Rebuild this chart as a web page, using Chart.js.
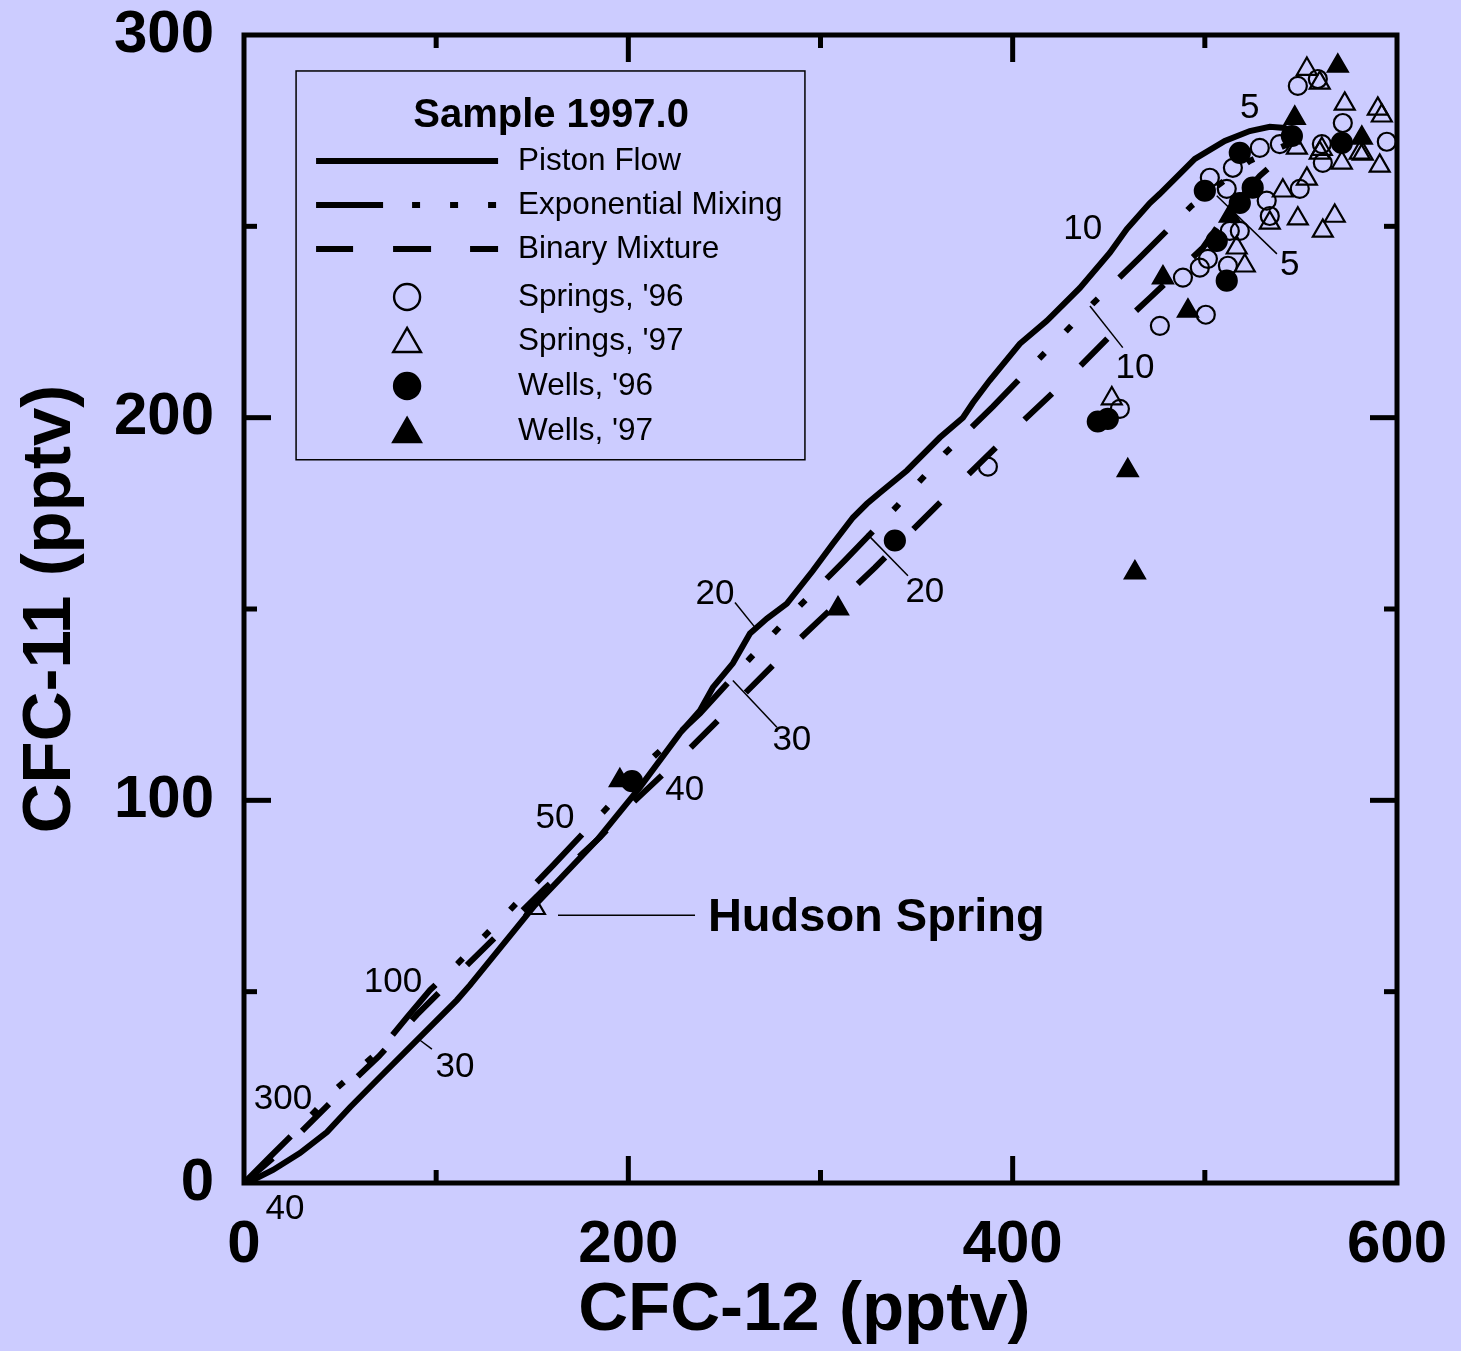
<!DOCTYPE html>
<html lang="en">
<head>
<meta charset="UTF-8">
<title>CFC-11 x CFC-12</title>
<script src="https://cdn.jsdelivr.net/npm/chart.js"></script>
<style>
  html, body { margin: 0; padding: 0; background: #ccccff; }
</style>
</head>
<body>
<canvas id="grafico" width="1461" height="1351"></canvas>
<script>
// curvas dos modelos (CFC-12, CFC-11)
const pistaoX = [1.5, 15.1, 29.1, 43.2, 55.2, 70.8, 84.8, 110.8, 117.6, 151.4, 183.7, 206, 226.8, 237.3, 244, 254.4, 263.3, 272.1, 282.5, 296, 306.5, 316.9, 324.1, 330.9, 345, 362.1, 374.1, 379.3, 388, 403.7, 417.8, 435, 450.6, 459.4, 471.4, 476.6, 494.8, 510.4, 523.4, 533.8, 541.6, 549.4];
const pistaoY = [0, 3.4, 7.8, 13.3, 19.8, 27.7, 34.7, 47.8, 51.7, 72.6, 89.6, 103.4, 117.5, 123.5, 129.5, 135.8, 143.6, 147.5, 151.4, 160, 167.1, 173.9, 177.5, 180.4, 186.2, 194.8, 200, 203.9, 209.7, 219.3, 225.3, 233.9, 243.1, 249.3, 256.1, 258.5, 267.6, 272.3, 274.9, 276, 275.7, 272.3];

const expX = [0, 13.5, 29.1, 48.4, 70.8, 84.8, 96.8, 111.3, 136.8, 160.8, 186.8, 212.8, 237.3, 263.3, 289.3, 312.7, 339.7, 364.7, 389.7, 415.7, 441.7, 466.2, 493.2, 523.4, 549.4];
const expY = [0, 6.8, 14.6, 24.8, 34.7, 43.3, 50.4, 57.4, 70.5, 83, 96.9, 111.2, 122.7, 137.1, 150.9, 162.7, 176.8, 190.6, 202.9, 216.4, 229.8, 241.8, 255.4, 267.1, 272.8];

const binX = [0, 15, 30, 50, 70, 90, 110, 142.6, 156.6, 185.2, 199.8, 228.4, 257, 285.6, 328.3, 371, 400.1, 428.7, 456.8, 471.4, 499, 510.4, 528.6, 549.4];
const binY = [0, 6.5, 13.5, 23.5, 33, 44, 54, 70, 77, 90.3, 98.2, 111.7, 126.1, 140.5, 160.8, 182.2, 196.6, 210.2, 224.5, 231.3, 244.4, 252.7, 263.2, 272.3];

// amostras
const fontes96X = [387.1, 455.8, 476.6, 500.5, 488.6, 497.4, 501.6, 512.0, 513.0, 518.2, 502.6, 511.4, 514.6, 532.2, 533.8, 549.4, 561.4, 528.6, 539.0, 548.4, 558.8, 571.8, 560.9, 594.7];
const fontes96Y = [187.2, 202.3, 224.0, 226.9, 236.6, 239.2, 241.5, 239.7, 248.8, 248.8, 262.7, 259.8, 265.3, 256.7, 252.7, 259.8, 266.6, 270.5, 271.5, 286.7, 288.5, 277.0, 271.5, 272.1];

const fontes97X = [151.4, 451.6, 520.8, 516.6, 533.8, 540.6, 553.1, 560.9, 548.4, 567.6, 561.4, 582.2, 591.0, 547.9, 553.1, 559.8, 572.8, 590.0, 592.1, 571.3, 580.6, 559.8];
const fontes97Y = [71.8, 205.0, 239.7, 244.4, 250.9, 259.3, 262.4, 270.2, 252.0, 252.7, 248.8, 268.9, 265.8, 270.5, 291.1, 287.5, 282.0, 280.7, 278.9, 266.6, 269.2, 269.2];

const pocos96X = [201.9, 338.7, 444.3, 449.5, 511.4, 506.2, 500.0, 518.2, 524.9, 518.2, 545.3, 571.3];
const pocos96Y = [105.0, 167.9, 199.0, 199.7, 235.8, 246.2, 259.3, 256.1, 260.1, 269.2, 273.6, 271.8];

const pocos97X = [195.6, 309.1, 459.9, 463.6, 491.2, 478.2, 513.0, 546.8, 569.2, 581.7];
const pocos97Y = [105.2, 150.1, 186.2, 159.5, 227.9, 236.6, 252.7, 278.3, 291.9, 273.1];

// ticks dos eixos
const xTicksMaiores = [200, 400];
const xTicksMenores = [100, 300, 500];
const yTicksMaiores = [100, 200];
const yTicksMenores = [50, 150, 250];

// rotulos de idade sobre as curvas: [texto, x, y]
const rotulosIdade = [
    ['40', 21.3, -7.0], ['30', 109.8, 30.3], ['20', 245.1, 153.8], ['10', 436.5, 249.1], ['5', 523.4, 280.9],
    ['300', 20.3, 21.9], ['100', 77.5, 52.5], ['50', 161.8, 95.3], ['40', 229.4, 102.6],
    ['30', 285.1, 115.7], ['20', 354.3, 154.3], ['10', 463.6, 212.8], ['5', 544.2, 239.7]
];
// linhas de chamada: [x1, y1, x2, y2]
const chamadas = [
    [91.6, 37.3, 97.8, 35.0], [255.5, 151.7, 265.9, 145.2],
    [254.4, 131.3, 277.3, 119.1], [324.1, 169.7, 345.5, 158.7],
    [440.2, 229.2, 457.3, 218.3], [506.2, 258.0, 537.5, 242.8],
    [163.4, 70.0, 234.7, 70.0]
];

const FONTE = '"Liberation Sans", Arial, sans-serif';
Chart.defaults.font.family = FONTE;
Chart.defaults.color = '#000';

const TRACO_EXP = [66, 30, 8, 30, 8, 30, 8, 30];
const TRACO_BIN = [38, 40];

function pares(xs, ys) {
    return xs.map((v, i) => ({ x: v, y: ys[i] }));
}

function curva(rotulo, xs, ys, traco) {
    return {
        label: rotulo,
        data: pares(xs, ys),
        showLine: true,
        borderColor: '#000',
        borderWidth: 6,
        borderDash: traco,
        borderCapStyle: 'butt',
        pointRadius: 0,
        tension: 0
    };
}

function marcador(rotulo, xs, ys, estilo, cheio, raio) {
    return {
        label: rotulo,
        data: pares(xs, ys),
        showLine: false,
        pointStyle: estilo,
        pointRadius: raio,
        pointBorderWidth: 2.2,
        pointBorderColor: '#000',
        pointBackgroundColor: cheio ? '#000' : 'rgba(0,0,0,0)'
    };
}

function desenhaPonto(ctx, estilo, x, y, r, cheio) {
    ctx.beginPath();
    if (estilo === 'circle') {
        ctx.arc(x, y, r, 0, Math.PI * 2);
    } else {
        let a = 0;
        ctx.moveTo(x + Math.sin(a) * r, y - Math.cos(a) * r);
        a += 2 * Math.PI / 3;
        ctx.lineTo(x + Math.sin(a) * r, y - Math.cos(a) * r);
        a += 2 * Math.PI / 3;
        ctx.lineTo(x + Math.sin(a) * r, y - Math.cos(a) * r);
        ctx.closePath();
    }
    if (cheio) { ctx.fillStyle = '#000'; ctx.fill(); }
    ctx.lineWidth = 2.4;
    ctx.strokeStyle = '#000';
    ctx.stroke();
}

// moldura com ticks para dentro nos quatro lados + titulo do eixo x
const pluginMoldura = {
    id: 'moldura',
    afterDraw(chart) {
        const { ctx, chartArea: a, scales: { x, y } } = chart;
        ctx.save();
        ctx.strokeStyle = '#000';
        ctx.lineWidth = 5;
        ctx.lineCap = 'butt';
        function seg(x1, y1, x2, y2) {
            ctx.beginPath(); ctx.moveTo(x1, y1); ctx.lineTo(x2, y2); ctx.stroke();
        }
        xTicksMaiores.forEach(v => { const p = x.getPixelForValue(v); seg(p, a.bottom, p, a.bottom - 27); seg(p, a.top, p, a.top + 27); });
        xTicksMenores.forEach(v => { const p = x.getPixelForValue(v); seg(p, a.bottom, p, a.bottom - 13); seg(p, a.top, p, a.top + 13); });
        yTicksMaiores.forEach(v => { const p = y.getPixelForValue(v); seg(a.left, p, a.left + 27, p); seg(a.right, p, a.right - 27, p); });
        yTicksMenores.forEach(v => { const p = y.getPixelForValue(v); seg(a.left, p, a.left + 13, p); seg(a.right, p, a.right - 13, p); });
        ctx.strokeRect(a.left, a.top, a.right - a.left, a.bottom - a.top);

        ctx.fillStyle = '#000';
        ctx.font = 'bold 69px ' + FONTE;
        ctx.textAlign = 'center';
        ctx.textBaseline = 'middle';
        ctx.fillText('CFC-12 (pptv)', a.left + (a.right - a.left) * 0.486, a.bottom + 128);
        ctx.restore();
    }
};

// rotulos de idade, chamadas e "Hudson Spring"
const pluginAnotacoes = {
    id: 'anotacoes',
    afterDraw(chart) {
        const { ctx, scales: { x, y } } = chart;
        ctx.save();
        ctx.fillStyle = '#000';
        ctx.font = '35px ' + FONTE;
        ctx.textAlign = 'center';
        ctx.textBaseline = 'middle';
        rotulosIdade.forEach(r => ctx.fillText(r[0], x.getPixelForValue(r[1]), y.getPixelForValue(r[2])));
        ctx.strokeStyle = '#000';
        ctx.lineWidth = 1.5;
        chamadas.forEach(c => {
            ctx.beginPath();
            ctx.moveTo(x.getPixelForValue(c[0]), y.getPixelForValue(c[1]));
            ctx.lineTo(x.getPixelForValue(c[2]), y.getPixelForValue(c[3]));
            ctx.stroke();
        });
        ctx.font = 'bold 47px ' + FONTE;
        ctx.textAlign = 'left';
        ctx.fillText('Hudson Spring', x.getPixelForValue(241.4), y.getPixelForValue(69.2));
        ctx.restore();
    }
};

// legenda em caixa dentro do grafico
const pluginLegenda = {
    id: 'legendaCaixa',
    afterDraw(chart) {
        const { ctx, scales: { x, y } } = chart;
        const bx = x.getPixelForValue(27.1), by = y.getPixelForValue(290.6);
        const bw = x.getPixelForValue(291.9) - bx, bh = y.getPixelForValue(189.0) - by;
        ctx.save();
        ctx.strokeStyle = '#000';
        ctx.lineWidth = 1.5;
        ctx.strokeRect(bx, by, bw, bh);
        ctx.fillStyle = '#000';
        ctx.font = 'bold 40px ' + FONTE;
        ctx.textAlign = 'center';
        ctx.textBaseline = 'middle';
        ctx.fillText('Sample 1997.0', bx + 255, by + 45);

        const itens = [
            ['Piston Flow', 'linha', []],
            ['Exponential Mixing', 'linha', TRACO_EXP],
            ['Binary Mixture', 'linha', TRACO_BIN],
            ["Springs, '96", 'circle', false],
            ["Springs, '97", 'triangle', false],
            ["Wells, '96", 'circle', true],
            ["Wells, '97", 'triangle', true]
        ];
        const linhasY = [90, 134, 178, 226, 270, 315, 360];
        ctx.font = '31.5px ' + FONTE;
        ctx.textAlign = 'left';
        itens.forEach((it, i) => {
            const ly = by + linhasY[i];
            if (it[1] === 'linha') {
                ctx.save();
                ctx.lineWidth = 6;
                ctx.lineCap = 'butt';
                if (i === 1) ctx.setLineDash([67, 29, 8, 30, 8, 30, 8, 100]);
                if (i === 2) ctx.setLineDash([37, 40, 38, 39, 28, 100]);
                ctx.beginPath();
                ctx.moveTo(bx + 20, ly);
                ctx.lineTo(bx + 202, ly);
                ctx.stroke();
                ctx.restore();
            } else {
                const r = it[1] === 'circle' ? 13 : 16;
                desenhaPonto(ctx, it[1], bx + 111, ly + (it[1] === 'circle' ? 0 : 3), r, it[2]);
            }
            ctx.fillStyle = '#000';
            ctx.fillText(it[0], bx + 222, ly);
        });
        ctx.restore();
    }
};

const fonteTick = { size: 60, weight: 'bold', family: FONTE };
const fonteTitulo = { size: 69, weight: 'bold', family: FONTE };

new Chart(document.getElementById('grafico'), {
    type: 'scatter',
    data: {
        datasets: [
            marcador("Springs, '96", fontes96X, fontes96Y, 'circle', false, 9),
            marcador("Springs, '97", fontes97X, fontes97Y, 'triangle', false, 11.5),
            marcador("Wells, '96", pocos96X, pocos96Y, 'circle', true, 10),
            marcador("Wells, '97", pocos97X, pocos97Y, 'triangle', true, 11.5),
            curva('Piston Flow', pistaoX, pistaoY, []),
            curva('Exponential Mixing', expX, expY, TRACO_EXP),
            curva('Binary Mixture', binX, binY, TRACO_BIN)
        ]
    },
    options: {
        responsive: false,
        animation: false,
        layout: { padding: { top: 35, right: 64, left: 0, bottom: 0 } },
        plugins: {
            legend: { display: false },
            tooltip: { enabled: false }
        },
        scales: {
            x: {
                type: 'linear',
                min: 0,
                max: 600,
                afterFit: s => { s.height = 168; s.paddingLeft = 0; s.paddingRight = 0; },
                grid: { display: false },
                border: { display: false },
                ticks: { stepSize: 200, font: fonteTick, color: '#000', padding: 18, maxRotation: 0, autoSkip: false },
                title: { display: false }
            },
            y: {
                type: 'linear',
                min: 0,
                max: 300,
                afterFit: s => { s.width = 244; s.paddingTop = 0; s.paddingBottom = 0; },
                grid: { display: false },
                border: { display: false },
                ticks: { stepSize: 100, font: fonteTick, color: '#000', padding: 22, autoSkip: false },
                title: { display: true, text: 'CFC-11 (pptv)', font: fonteTitulo, color: '#000', padding: { top: 10, bottom: 0 } }
            }
        }
    },
    plugins: [pluginMoldura, pluginAnotacoes, pluginLegenda]
});
</script>
</body>
</html>
